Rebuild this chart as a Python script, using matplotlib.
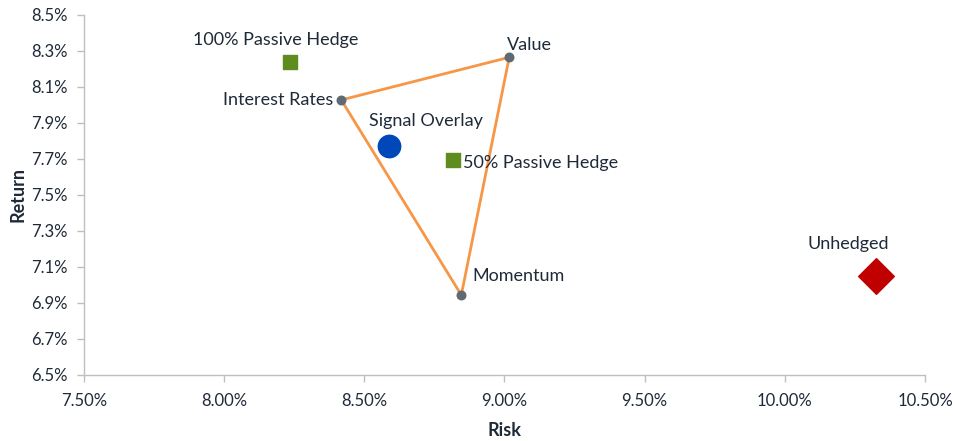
import matplotlib.pyplot as plt
from matplotlib.ticker import FuncFormatter

plt.rcParams['font.family'] = ['Lato', 'DejaVu Sans']

# factor triangle
factor_names = ["Value", "Interest Rates", "Momentum"]
factor_risk = [9.017, 8.418, 8.846]
factor_ret = [8.265, 8.028, 6.944]

# other portfolios
sig_risk, sig_ret = [8.587], [7.772]
hedge_names = ["100% Passive Hedge", "50% Passive Hedge"]
hedge_risk = [8.235, 8.818]
hedge_ret = [8.241, 7.694]
unh_risk, unh_ret = [10.326], [7.052]

fig = plt.figure(figsize=(9.54, 4.41), dpi=100)
ax = fig.add_axes([0.088, 0.1497, 0.8816, 0.8163])

# closed triangle
tx = factor_risk + factor_risk[:1]
ty = factor_ret + factor_ret[:1]
ax.plot(tx, ty, color='#F79646', lw=2, zorder=2)
ax.scatter(factor_risk, factor_ret, s=38, color='#5F6A72', zorder=3)

ax.scatter(sig_risk, sig_ret, s=260, color='#0047BA', zorder=3)
ax.scatter(hedge_risk, hedge_ret, s=110, marker='s', color='#5F8C1E', zorder=3)
ax.scatter(unh_risk, unh_ret, s=330, marker='D', color='#C00000', zorder=3)

tc = '#1F2A38'
fs = 13
# labels
ax.annotate("Value", (factor_risk[0], factor_ret[0]), xytext=(-2, 3),
            textcoords='offset points', ha='left', va='bottom', fontsize=fs, color=tc)
ax.annotate("Interest Rates", (factor_risk[1], factor_ret[1]), xytext=(-6, 0),
            textcoords='offset points', ha='right', va='center', fontsize=fs, color=tc)
ax.annotate("Momentum", (factor_risk[2], factor_ret[2]), xytext=(8, 8),
            textcoords='offset points', ha='left', va='bottom', fontsize=fs, color=tc)
ax.annotate("Signal Overlay", (sig_risk[0], sig_ret[0]), xytext=(27, 12),
            textcoords='offset points', ha='center', va='bottom', fontsize=fs, color=tc)
ax.annotate(hedge_names[0], (hedge_risk[0], hedge_ret[0]), xytext=(-10, 10),
            textcoords='offset points', ha='center', va='bottom', fontsize=fs, color=tc)
ax.annotate(hedge_names[1], (hedge_risk[1], hedge_ret[1]), xytext=(7, -2),
            textcoords='offset points', ha='left', va='center', fontsize=fs, color=tc)
ax.annotate("Unhedged", (unh_risk[0], unh_ret[0]), xytext=(-20, 17),
            textcoords='offset points', ha='center', va='bottom', fontsize=fs, color=tc)

ax.set_xlim(7.5, 10.5)
ax.set_ylim(6.5, 8.5)
ax.set_xticks([7.5, 8.0, 8.5, 9.0, 9.5, 10.0, 10.5])
ax.set_yticks([6.5, 6.7, 6.9, 7.1, 7.3, 7.5, 7.7, 7.9, 8.1, 8.3, 8.5])
ax.xaxis.set_major_formatter(FuncFormatter(lambda v, p: f"{v:.2f}%"))
ax.yaxis.set_major_formatter(FuncFormatter(lambda v, p: f"{v:.1f}%"))

for s in ['top', 'right']:
    ax.spines[s].set_visible(False)
for s in ['left', 'bottom']:
    ax.spines[s].set_color('#BFBFBF')
    ax.spines[s].set_linewidth(1)
ax.tick_params(colors='#BFBFBF', labelcolor=tc, labelsize=12, length=5, width=1)
ax.tick_params(axis='x', pad=8)
ax.tick_params(axis='y', pad=7)

ax.set_xlabel("Risk", fontsize=13, fontweight='bold', color=tc)
ax.set_ylabel("Return", fontsize=13, fontweight='bold', color=tc)
ax.xaxis.set_label_coords(0.5, -0.13)
ax.yaxis.set_label_coords(-0.068, 0.5)

fig.savefig("out.png", dpi=100)
